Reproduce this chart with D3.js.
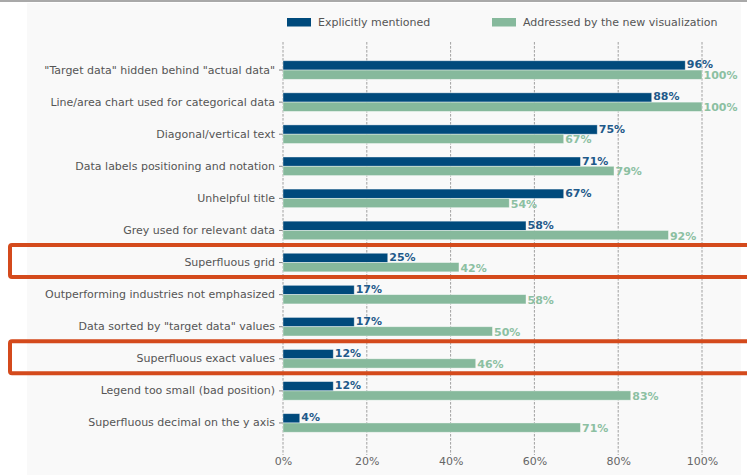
<!DOCTYPE html>
<html>
<head>
<meta charset="utf-8">
<script src="https://cdn.jsdelivr.net/npm/d3@7"></script>
<style>
  html, body { margin: 0; padding: 0; background: #fff; }
  svg { display: block; font-family: "DejaVu Sans", sans-serif; }
</style>
</head>
<body>
<svg id="chart" width="747" height="475"></svg>
<script>
// Issues found in the original chart
const categories = [
  '"Target data" hidden behind "actual data"',
  'Line/area chart used for categorical data',
  'Diagonal/vertical text',
  'Data labels positioning and notation',
  'Unhelpful title',
  'Grey used for relevant data',
  'Superfluous grid',
  'Outperforming industries not emphasized',
  'Data sorted by "target data" values',
  'Superfluous exact values',
  'Legend too small (bad position)',
  'Superfluous decimal on the y axis'
];
// Share of responses (%)
const mentioned = [96, 88, 75, 71, 67, 58, 25, 17, 17, 12, 12, 4];
const addressed = [100, 100, 67, 79, 54, 92, 42, 58, 50, 46, 83, 71];
const seriesNames = ["Explicitly mentioned", "Addressed by the new visualization"];
const tickValues = [0, 20, 40, 60, 80, 100];
const highlighted = ["Superfluous grid", "Superfluous exact values"];

const colors = { mentioned: "#004a7c", addressed: "#86b99c" };

const svg = d3.select("#chart");

// page frame and panel
svg.append("rect").attr("x", 0).attr("y", 0).attr("width", 747).attr("height", 2).attr("fill", "#a9a9a9");
svg.append("rect").attr("x", 27).attr("y", 3).attr("width", 714).attr("height", 472).attr("fill", "#f9f9f9");

const x = d3.scaleLinear().domain([0, 100]).range([283, 702]);
const y = d3.scaleBand().domain(categories).range([54, 439]).padding(0);
const barH = 9.3;
const center = c => y(c) + y.bandwidth() / 2;

// dashed vertical grid
svg.append("g").selectAll("line").data(tickValues).join("line")
  .attr("x1", d => x(d)).attr("x2", d => x(d))
  .attr("y1", 42).attr("y2", 455)
  .attr("stroke", "#8a8a8a").attr("stroke-width", 0.8)
  .attr("stroke-dasharray", "2.6,1.4");

// x axis labels
const xAxis = svg.append("g").attr("transform", "translate(0,452)")
  .call(d3.axisBottom(x).tickValues(tickValues).tickFormat(d => d + "%").tickSize(0).tickPadding(5));
xAxis.select(".domain").remove();
xAxis.selectAll("text").attr("font-size", 11).attr("fill", "#666").attr("font-family", "DejaVu Sans, sans-serif");

// y axis labels
const yAxis = svg.append("g").attr("transform", "translate(283,0)")
  .call(d3.axisLeft(y).tickSize(4).tickPadding(4));
yAxis.select(".domain").remove();
yAxis.selectAll(".tick line").attr("stroke", "#666").attr("stroke-width", 0.8);
yAxis.selectAll("text").attr("font-size", 11).attr("fill", "#555").attr("font-family", "DejaVu Sans, sans-serif");

const rows = categories.map((c, i) => ({ c, m: mentioned[i], a: addressed[i] }));

// bars
svg.append("g").selectAll("rect").data(rows).join("rect")
  .attr("x", x(0)).attr("y", d => center(d.c) - barH)
  .attr("width", d => x(d.m) - x(0)).attr("height", barH)
  .attr("fill", colors.mentioned)
  .attr("stroke", "#ffffff").attr("stroke-opacity", 0.5).attr("stroke-width", 0.8);
svg.append("g").selectAll("rect").data(rows).join("rect")
  .attr("x", x(0)).attr("y", d => center(d.c))
  .attr("width", d => x(d.a) - x(0)).attr("height", barH)
  .attr("fill", colors.addressed)
  .attr("stroke", "#ffffff").attr("stroke-opacity", 0.5).attr("stroke-width", 0.8);

// value labels
svg.append("g").selectAll("text").data(rows).join("text")
  .attr("x", d => x(d.m) + 1.5).attr("y", d => center(d.c) - barH / 2 - 0.5)
  .attr("dominant-baseline", "central")
  .attr("font-size", 11).attr("font-weight", "bold").attr("fill", "#1f5a8a")
  .text(d => d.m + "%");
svg.append("g").selectAll("text").data(rows).join("text")
  .attr("x", d => x(d.a) + 1.5).attr("y", d => center(d.c) + barH / 2 + 1)
  .attr("dominant-baseline", "central")
  .attr("font-size", 11).attr("font-weight", "bold").attr("fill", "#8cc0a2")
  .text(d => d.a + "%");

// legend
const legend = svg.append("g");
const legendItems = [
  { name: seriesNames[0], color: colors.mentioned, x: 287 },
  { name: seriesNames[1], color: colors.addressed, x: 492 }
];
legendItems.forEach(it => {
  legend.append("rect").attr("x", it.x).attr("y", 18).attr("width", 24).attr("height", 8.5).attr("fill", it.color);
  legend.append("text").attr("x", it.x + 31).attr("y", 22.5).attr("dominant-baseline", "central")
    .attr("font-size", 11).attr("fill", "#555").text(it.name);
});

// highlight boxes around selected rows
svg.append("g").selectAll("rect").data(highlighted).join("rect")
  .attr("x", 10).attr("y", d => center(d) - 1.5 - 16)
  .attr("width", 760).attr("height", 32)
  .attr("rx", 2)
  .attr("fill", "none").attr("stroke", "#d44a1c").attr("stroke-width", 4);
</script>
</body>
</html>
